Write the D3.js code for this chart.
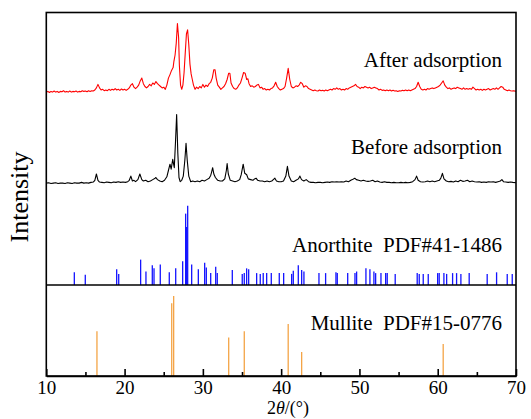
<!DOCTYPE html>
<html><head><meta charset="utf-8">
<script src="https://cdn.jsdelivr.net/npm/d3@7"></script>
<style>body{margin:0;background:#fff}svg{display:block}svg text{font-family:"Liberation Serif","Times New Roman","DejaVu Serif",serif !important}</style>
</head><body>
<svg id="c" width="531" height="419"></svg>
<script>
// ---- data ----
const xTicks = [10,20,30,40,50,60,70];
const xMinorTicks = [15,25,35,45,55,65];
const seriesLabels = ["After adsorption","Before adsorption","Anorthite  PDF#41-1486","Mullite  PDF#15-0776"];

const beforeData = [[10.0,2],[10.3,2.5],[10.6,1.5],[10.9,2],[11.2,2.5],[11.5,1.5],[11.8,2],[12.1,2],[12.4,1.5],[12.7,2.5],[13.0,2],[13.3,1.5],[13.6,2.5],[13.9,2],[14.2,2],[14.5,3],[14.8,2],[15.1,2.5],[15.4,2],[15.7,3],[16.0,3.5],[16.2,6],[16.4,15],[16.6,6],[16.8,3.5],[17.1,3],[17.4,2.5],[17.7,3.5],[18.0,3],[18.3,2.5],[18.6,3.5],[18.9,3],[19.2,4],[19.5,3],[19.8,3.5],[20.1,3],[20.4,4],[20.6,6],[20.8,12],[21.0,5],[21.2,6],[21.4,4],[21.7,7],[21.95,15],[22.2,7],[22.4,5],[22.7,6],[23.0,4],[23.3,5],[23.6,7],[23.9,9],[24.0,10],[24.2,7],[24.5,5],[24.8,4],[25.1,6],[25.4,11],[25.6,20],[25.8,29],[25.95,22],[26.15,36],[26.35,24],[26.5,60],[26.65,100],[26.8,45],[26.95,10],[27.1,4],[27.3,6],[27.5,12],[27.7,35],[27.85,59],[28.0,35],[28.2,12],[28.45,4],[28.7,5],[29.0,4],[29.3,5],[29.6,4],[29.9,6],[30.2,5],[30.5,7],[30.8,9],[31.0,13],[31.1,17],[31.25,24],[31.4,15],[31.6,10],[31.9,6],[32.2,5],[32.5,5],[32.8,8],[33.0,20],[33.1,30],[33.25,15],[33.5,6],[33.8,5],[34.1,4],[34.4,5],[34.7,7],[34.9,14],[35.15,29],[35.35,16],[35.6,14],[35.8,8],[36.1,7],[36.4,6],[36.6,8],[36.8,9],[37.0,6],[37.3,5],[37.6,5],[37.9,4],[38.2,5],[38.5,4],[38.8,5],[39.0,7],[39.2,9],[39.4,5],[39.7,4],[40.0,4],[40.3,5],[40.6,12],[40.8,26],[41.0,12],[41.3,5],[41.6,4],[41.9,6],[42.2,8],[42.4,12],[42.6,7],[42.9,5],[43.2,7],[43.5,4],[43.8,3],[44.1,3],[44.4,2.5],[44.7,3],[45.0,3],[45.3,2.5],[45.6,3],[45.9,3.5],[46.2,3],[46.5,4],[46.8,3.5],[47.1,4],[47.4,3.5],[47.7,4],[48.0,3.5],[48.3,5],[48.6,4],[48.9,6],[49.1,7],[49.4,9],[49.6,7],[49.9,6],[50.2,5],[50.5,6],[50.8,5],[51.1,4.5],[51.4,5],[51.7,6],[52.0,4],[52.3,5],[52.6,3.5],[52.9,3],[53.2,4],[53.5,3],[53.8,3],[54.1,2.5],[54.4,3],[54.7,2.5],[55.0,2.5],[55.3,3],[55.6,2.5],[55.9,3],[56.2,2.5],[56.5,3],[56.8,4],[57.1,7],[57.3,12],[57.5,6],[57.8,4],[58.1,3.5],[58.4,4],[58.7,5],[59.0,4],[59.3,5],[59.6,4],[59.9,5],[60.2,6],[60.4,9],[60.6,16],[60.8,8],[61.1,5],[61.4,4],[61.7,4.5],[62.0,3.5],[62.3,5],[62.6,4],[62.9,6],[63.2,4.5],[63.5,5],[63.8,6],[64.1,4],[64.4,5],[64.7,4],[65.0,3.5],[65.3,4],[65.6,3],[65.9,3.5],[66.2,3],[66.5,4],[66.8,3.5],[67.1,4],[67.4,3],[67.7,4],[68.0,5],[68.2,7],[68.4,4],[68.7,3.5],[69.0,3],[69.3,3.5],[69.6,3],[70.0,2.5]];

const afterData = [[10.0,2],[10.2,3],[10.4,1.5],[10.6,3],[10.8,2],[11.0,3.5],[11.2,2],[11.4,3],[11.6,1.5],[11.8,3],[12.0,2.5],[12.2,4],[12.4,2],[12.6,3],[12.8,2],[13.0,3.5],[13.2,2],[13.4,3],[13.6,2.5],[13.8,3.5],[14.0,2],[14.2,3],[14.4,2.5],[14.6,4],[14.8,3],[15.0,3.5],[15.2,2.5],[15.4,4],[15.6,3],[15.8,4],[16.0,3.5],[16.2,5],[16.4,8],[16.6,13],[16.8,8],[17.0,5],[17.2,6],[17.4,4],[17.6,5],[17.8,4],[18.0,6],[18.2,4.5],[18.4,6],[18.6,5],[18.8,7],[19.0,5],[19.2,6],[19.4,4.5],[19.6,6.5],[19.8,5],[20.0,6],[20.2,4.5],[20.4,6],[20.6,8],[20.8,12],[21.0,14],[21.2,9],[21.4,7],[21.6,9],[21.8,12],[22.0,18],[22.2,22],[22.4,14],[22.6,10],[22.8,8],[23.0,10],[23.2,13],[23.4,11],[23.6,15],[23.8,13],[24.0,17],[24.2,14],[24.4,12],[24.6,10],[24.8,8],[25.0,9],[25.2,6],[25.4,12],[25.6,22],[25.8,27],[26.0,33],[26.2,37],[26.3,46],[26.45,55],[26.6,72],[26.75,100],[26.9,80],[27.0,40],[27.15,12],[27.3,6],[27.45,12],[27.6,30],[27.75,58],[27.9,85],[28.05,91],[28.2,70],[28.35,42],[28.5,28],[28.65,20],[28.8,12],[29.0,6],[29.2,9],[29.4,7],[29.6,10],[29.8,8],[30.0,13],[30.2,9],[30.4,12],[30.6,10],[30.8,14],[31.0,16],[31.2,22],[31.4,34],[31.55,34],[31.7,22],[31.9,12],[32.1,9],[32.3,6],[32.5,8],[32.7,10],[32.9,14],[33.1,20],[33.3,29],[33.45,29],[33.6,15],[33.8,10],[34.0,7],[34.2,6],[34.4,8],[34.6,12],[34.8,15],[35.0,22],[35.2,30],[35.4,29],[35.6,20],[35.75,21],[35.9,14],[36.1,10],[36.3,11],[36.5,9],[36.7,10],[36.9,12],[37.1,13],[37.3,8],[37.5,9],[37.7,6],[37.9,7],[38.1,5],[38.3,6],[38.5,5],[38.7,7],[38.9,8],[39.1,11],[39.3,16],[39.5,10],[39.7,7],[39.9,5],[40.1,6],[40.3,7],[40.5,10],[40.7,22],[40.9,36],[41.1,20],[41.3,10],[41.5,8],[41.7,9],[41.9,11],[42.1,10],[42.3,12],[42.5,16],[42.7,14],[42.9,9],[43.1,11],[43.3,10],[43.5,7],[43.7,6],[43.9,5],[44.1,4],[44.3,5],[44.5,4],[44.7,3.5],[44.9,5],[45.1,4],[45.3,4.5],[45.5,3.5],[45.7,5],[45.9,4],[46.1,5],[46.3,6],[46.5,5],[46.7,7],[46.9,6],[47.1,8],[47.3,6],[47.5,7],[47.7,5],[47.9,6],[48.1,5],[48.3,7],[48.5,6],[48.7,8],[48.9,9],[49.1,10],[49.3,11],[49.5,13],[49.7,10],[49.9,9],[50.1,7],[50.3,9],[50.5,8],[50.7,10],[50.9,9],[51.1,8],[51.3,9],[51.5,7],[51.7,8],[51.9,9],[52.1,8],[52.3,7],[52.5,5],[52.7,6],[52.9,4.5],[53.1,5],[53.3,4],[53.5,5],[53.7,4],[53.9,5],[54.1,3.5],[54.3,4.5],[54.5,3.5],[54.7,4],[54.9,3],[55.1,4],[55.3,3.5],[55.5,4.5],[55.7,4],[55.9,5],[56.1,4],[56.3,5],[56.5,4],[56.7,5],[56.9,6],[57.1,7],[57.3,10],[57.5,16],[57.7,10],[57.9,6],[58.1,5],[58.3,6],[58.5,5],[58.7,7],[58.9,6],[59.1,7],[59.3,8],[59.5,7],[59.7,8],[59.9,9],[60.1,10],[60.3,12],[60.5,15],[60.7,18],[60.9,12],[61.1,9],[61.3,7],[61.5,8],[61.7,6],[61.9,7],[62.1,8],[62.3,7],[62.5,9],[62.7,8],[62.9,7],[63.1,6],[63.3,8],[63.5,6],[63.7,7],[63.9,6],[64.1,7],[64.3,6],[64.5,9],[64.7,7],[64.9,5],[65.1,6],[65.3,5],[65.5,6],[65.7,4.5],[65.9,6],[66.1,5],[66.3,6],[66.5,7],[66.7,5],[66.9,6],[67.1,7],[67.3,6],[67.5,8],[67.7,6],[67.9,8],[68.1,10],[68.3,9],[68.5,6],[68.7,5],[68.9,4],[69.1,5],[69.3,4],[69.5,3.5],[69.7,4],[70.0,3]];

const anorthitePos = [13.58,14.98,18.99,19.25,22.05,22.73,23.54,23.76,24.56,25.71,26.53,27.42,27.80,27.93,28.06,28.57,29.42,30.23,30.44,31.00,31.64,31.84,33.76,35.03,35.29,35.59,35.85,36.87,37.33,37.71,38.15,38.74,39.76,40.32,41.34,41.55,42.19,42.62,42.91,44.83,45.68,47.00,47.17,48.50,49.43,49.64,50.83,51.34,51.85,52.07,52.75,53.35,53.55,54.57,57.38,57.64,58.15,58.79,59.99,60.19,60.79,61.14,61.90,62.41,62.96,64.02,66.32,67.52,68.88,69.52];
const anorthiteInt = [16,13,20,14,32,17,25,21,26,16,21,30,90,73,100,26,20,28,22,15,23,15,19,14,15,21,20,15,14,15,15,15,15,15,14,18,25,19,17,15,15,16,15,15,15,17,21,20,17,15,15,15,15,14,15,14,14,14,15,15,15,14,15,15,14,15,14,16,14,14];

const mullitePos = [16.47,26.02,26.27,33.30,35.29,40.90,42.62,60.70];
const mulliteInt = [56,91,100,48,56,65,30,40];

// ---- layout ----
const SERIF = '"Liberation Serif","Times New Roman","DejaVu Serif",serif';
const L = 46.3, R = 516, T = 12.5, B = 376, DIV = 285;
const svg = d3.select("#c");
const x = d3.scaleLinear().domain([10,70]).range([L,R]);
const yAfter = d3.scaleLinear().domain([0,100]).range([93.5,23.5]);
const yBefore = d3.scaleLinear().domain([0,100]).range([184.5,114.5]);
const yAno = d3.scaleLinear().domain([0,100]).range([DIV,205.7]);
const yMul = d3.scaleLinear().domain([0,100]).range([B,296]);

const line = ys => d3.line().x(d=>x(d[0])).y(d=>ys(d[1]));

svg.append("path").datum(beforeData).attr("d", line(yBefore))
  .attr("fill","none").attr("stroke","#000").attr("stroke-width",1.1).attr("stroke-linejoin","round");
svg.append("path").datum(afterData).attr("d", line(yAfter))
  .attr("fill","none").attr("stroke","#ff0000").attr("stroke-width",1.1).attr("stroke-linejoin","round");

svg.append("g").selectAll("line").data(anorthitePos).join("line")
  .attr("x1",d=>x(d)).attr("x2",d=>x(d))
  .attr("y1",yAno(0)).attr("y2",(d,i)=>yAno(anorthiteInt[i]))
  .attr("stroke","#1414ff").attr("stroke-width",1.3);

svg.append("g").selectAll("line").data(mullitePos).join("line")
  .attr("x1",d=>x(d)).attr("x2",d=>x(d))
  .attr("y1",yMul(0)).attr("y2",(d,i)=>yMul(mulliteInt[i]))
  .attr("stroke","#f4a446").attr("stroke-width",1.3);

// frame and divider
svg.append("rect").attr("x",L).attr("y",T).attr("width",R-L).attr("height",B-T)
  .attr("fill","none").attr("stroke","#000").attr("stroke-width",1.6);
svg.append("line").attr("x1",L).attr("x2",R).attr("y1",DIV).attr("y2",DIV)
  .attr("stroke","#000").attr("stroke-width",1.6);

// x axis
const ax = svg.append("g").attr("transform",`translate(0,${B})`)
  .call(d3.axisBottom(x).tickValues(xTicks).tickSizeInner(-7).tickSizeOuter(0).tickFormat(d3.format("d")));
ax.attr("font-family", null);
ax.select(".domain").attr("stroke-width",1.6);
ax.selectAll(".tick line").attr("stroke-width",1.6);
ax.selectAll("text").attr("y",17.5).attr("dy",0).attr("font-size",19)
  .style("font-family",SERIF).attr("fill","#000");
const axm = svg.append("g").attr("transform",`translate(0,${B})`)
  .call(d3.axisBottom(x).tickValues(xMinorTicks).tickSizeInner(-4).tickSizeOuter(0).tickFormat(""));
axm.select(".domain").remove();
axm.selectAll(".tick line").attr("stroke-width",1.6);

// labels
const labelY = [67,154,251.7,330];
svg.append("g").selectAll("text").data(seriesLabels).join("text")
  .attr("x",502).attr("y",(d,i)=>labelY[i]).attr("text-anchor","end")
  .attr("font-size",21).attr("fill","#000").style("font-family",SERIF).style("white-space","pre").text(d=>d);

// axis titles
const xt = svg.append("text").attr("x",288).attr("y",414).attr("text-anchor","middle")
  .attr("font-size",18).style("font-family",SERIF);
xt.append("tspan").text("2");
xt.append("tspan").attr("font-style","italic").text("θ");
xt.append("tspan").text("/(°)");

svg.append("text").attr("transform","translate(28,197) rotate(-90)")
  .attr("text-anchor","middle").attr("font-size",26).style("font-family",SERIF).text("Intensity");
</script>
</body></html>
